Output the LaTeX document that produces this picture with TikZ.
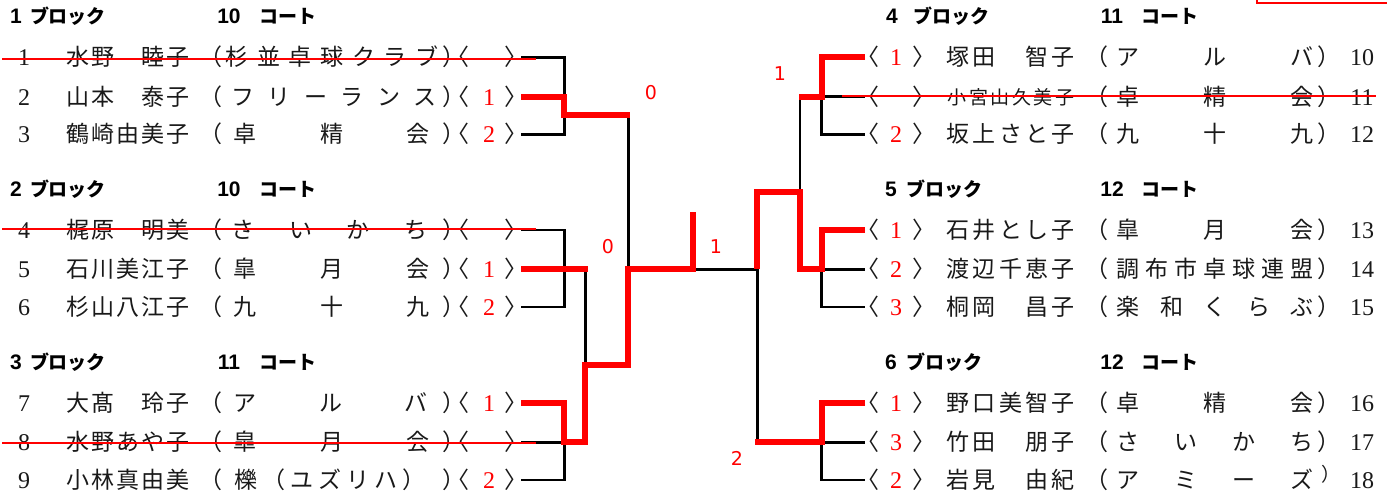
\documentclass[tikz,border=0pt]{standalone}
\usepackage{fontspec}
\newfontfamily\jp{Noto Sans CJK JP}
\newfontfamily\hdd{Liberation Sans}
\newfontfamily\dv{DejaVu Sans}
\newfontfamily\serifnum{Liberation Serif}
\tikzset{
  jt/.style={font=\jp\fontsize{23}{27}\selectfont, inner sep=0pt, anchor=base, text=black!90},
  jts/.style={font=\jp\fontsize{19}{22}\selectfont, inner sep=0pt, anchor=base, text=black!90},
  num/.style={font=\serifnum\fontsize{24}{28}\selectfont, inner sep=0pt, anchor=base, text=black!90},
  rnum/.style={num, text=red},
  hdk/.style={font=\jp\bfseries\fontsize{19}{22}\selectfont, inner sep=0pt, anchor=base},
  hdn/.style={font=\hdd\bfseries\fontsize{21}{24}\selectfont, inner sep=0pt, anchor=base},
  lab/.style={font=\dv\fontsize{19}{22}\selectfont, text=red, inner sep=0pt},
  blk/.style={line width=2.8pt, black},
  win/.style={line width=6pt, red},
  strike/.style={line width=2pt, red},
}
\newcommand\spr[5]{%
  \foreach \ch [count=\i] in {#5} {\xdef\sprn{\i}}%
  \foreach \ch [count=\i] in {#5} {%
    \node[jt] (#1\i) at ({#2+(\i-1)*(#3-#2)/(\sprn-1)}, #4) {\ch};}%
}
% left row: id, y, number, name list, club x1, club x2, club list
\newcommand\Lrow[7]{%
  \node[num] (L#1n) at (24, #2+8.5) {#3};
  \spr{L#1a}{78}{178}{#2+8.5}{#4}
  \node[jt] (L#1p) at (211, #2+8.5) {（};
  \spr{L#1c}{#5}{#6}{#2+8.5}{#7}
  \node[jt] (L#1q) at (454, #2+8.5) {）};
  \node[jt] (L#1b) at (458, #2+8.5) {〈};
  \node[jt] (L#1e) at (516, #2+8.5) {〉};
}
% right row: id, y, number, name list, club list
\newcommand\Rrow[5]{%
  \node[jt] (R#1b) at (868, #2+8.5) {〈};
  \node[jt] (R#1e) at (924, #2+8.5) {〉};
  \spr{R#1a}{958}{1063}{#2+8.5}{#4}
  \node[jt] (R#1p) at (1097, #2+8.5) {（};
  \spr{R#1c}{1128}{1302}{#2+8.5}{#5}
  \node[num] (R#1n) at (1362, #2+8.5) {#3};
}
\begin{document}
\begin{tikzpicture}[x=1pt,y=-1pt]
\useasboundingbox (0,0) rectangle (1387,494);
% headers
\foreach \k/\b/\c [count=\j] in {0/1/10,1/2/10,2/3/11} {
  \node[hdn] (hLb\j) at (16, 24+173*\k) {\b};
  \node[hdk] (hLk\j) at (68, 24+173*\k) {ブロック};
  \node[hdn] (hLc\j) at (229, 24+173*\k) {\c};
  \node[hdk] (hLt\j) at (287.5, 24+173*\k) {コート};
}
\node[hdn] (hR1b) at (892, 24) {4};
\node[hdk] (hR1k) at (951, 24) {ブロック};
\node[hdn] (hR2b) at (891, 197) {5};
\node[hdk] (hR2k) at (944, 197) {ブロック};
\node[hdn] (hR3b) at (891, 370) {6};
\node[hdk] (hR3k) at (944, 370) {ブロック};
\foreach \k/\c [count=\j] in {0/11,1/12,2/12} {
  \node[hdn] (hRc\j) at (1112, 24+173*\k) {\c};
  \node[hdk] (hRt\j) at (1170, 24+173*\k) {コート};
}
% left rows
\Lrow{1}{57.3}{1}{水,野,,睦,子}{237}{427}{杉,並,卓,球,ク,ラ,ブ}
\Lrow{2}{96.7}{2}{山,本,,泰,子}{243}{425}{フ,リ,ー,ラ,ン,ス}
\Lrow{3}{134.3}{3}{鶴,崎,由,美,子}{245}{418}{卓,精,会}
\Lrow{4}{230}{4}{梶,原,,明,美}{243}{416}{さ,い,か,ち}
\Lrow{5}{269.3}{5}{石,川,美,江,子}{245}{418}{皐,月,会}
\Lrow{6}{307}{6}{杉,山,八,江,子}{245}{418}{九,十,九}
\Lrow{7}{403.3}{7}{大,髙,,玲,子}{245}{416}{ア,ル,バ}
\Lrow{8}{442.3}{8}{水,野,あ,や,子}{245}{418}{皐,月,会}
\Lrow{9}{480}{9}{小,林,真,由,美}{246}{414}{櫟,（,ユ,ズ,リ,ハ,）}
\node[rnum] (L2d) at (489, 96.7+8.5) {1};
\node[rnum] (L3d) at (489, 134.3+8.5) {2};
\node[rnum] (L5d) at (489, 269.3+8.5) {1};
\node[rnum] (L6d) at (489, 307+8.5) {2};
\node[rnum] (L7d) at (489, 403.3+8.5) {1};
\node[rnum] (L9d) at (489, 480+8.5) {2};
% right rows
\Rrow{10}{57.3}{10}{塚,田,,智,子}{ア,ル,バ}
\node[jt] (R10q) at (1329, 57.3+8.5) {）};
\node[jt] (R11b) at (868, 96.7+8.5) {〈};
\node[jt] (R11e) at (924, 96.7+8.5) {〉};
\foreach \ch [count=\i] in {小,宮,山,久,美,子}
  \node[jts] (R11a\i) at ({957+(\i-1)*21.6}, 96.7+7.5) {\ch};
\node[jt] (R11p) at (1097, 96.7+8.5) {（};
\spr{R11c}{1128}{1302}{96.7+8.5}{卓,精,会}
\node[jt] (R11q) at (1329, 96.7+8.5) {）};
\node[num] (R11n) at (1362, 96.7+8.5) {11};
\Rrow{12}{134.3}{12}{坂,上,さ,と,子}{九,十,九}
\node[jt] (R12q) at (1329, 134.3+8.5) {）};
\Rrow{13}{230}{13}{石,井,と,し,子}{皐,月,会}
\node[jt] (R13q) at (1329, 230+8.5) {）};
\Rrow{14}{269.3}{14}{渡,辺,千,恵,子}{調,布,市,卓,球,連,盟}
\node[jt] (R14q) at (1329, 269.3+8.5) {）};
\Rrow{15}{307}{15}{桐,岡,,昌,子}{楽,和,く,ら,ぶ}
\node[jt] (R15q) at (1329, 307+8.5) {）};
\Rrow{16}{403.3}{16}{野,口,美,智,子}{卓,精,会}
\node[jt] (R16q) at (1329, 403.3+8.5) {）};
\Rrow{17}{442.3}{17}{竹,田,,朋,子}{さ,い,か,ち}
\node[jt] (R17q) at (1329, 442.3+8.5) {）};
\Rrow{18}{480}{18}{岩,見,,由,紀}{ア,ミ,ー,ズ}
\node[jts] (R18q) at (1331, 480+1) {）};
\node[rnum] (R10d) at (896, 57.3+8.5) {1};
\node[rnum] (R12d) at (896, 134.3+8.5) {2};
\node[rnum] (R13d) at (896, 230+8.5) {1};
\node[rnum] (R14d) at (896, 269.3+8.5) {2};
\node[rnum] (R15d) at (896, 307+8.5) {3};
\node[rnum] (R16d) at (896, 403.3+8.5) {1};
\node[rnum] (R17d) at (896, 442.3+8.5) {3};
\node[rnum] (R18d) at (896, 480+8.5) {2};
% row end coordinates
\foreach \i/\y in {1/57.3,2/96.7,3/134.3,4/230,5/269.3,6/307,7/403.3,8/442.3,9/480}
  \coordinate (Lr\i) at (521,\y);
\foreach \i/\y in {10/57.3,11/96.7,12/134.3,13/230,14/269.3,15/307,16/403.3,17/442.3,18/480}
  \coordinate (Rr\i) at (865,\y);
% black bracket lines
\draw[blk] (Lr1) -- (564.3,57.3) -- (564.3,134.3) -- (Lr3);
\draw[blk] (628.3,115.3) -- (628.3,269.3);
\draw[blk] (Lr4) -- (564.3,230) -- (564.3,307) -- (Lr6);
\draw[blk] (585.3,269.3) -- (585.3,365);
\draw[blk] (Lr7) -- (564.3,403.3) -- (564.3,480) -- (Lr9);
\draw[blk] (Lr8) -- (564.3,442.3);
\draw[blk] (693.3,269.3) -- (757.3,269.3) -- (757.3,442.3);
\draw[blk] (800,191.7) -- (800,96.7);
\draw[blk] (Rr10) -- (821.7,57.3) -- (821.7,134.3) -- (Rr12);
\draw[blk] (821.7,96.7) -- (Rr11);
\draw[blk] (Rr13) -- (821.7,230) -- (821.7,307) -- (Rr15);
\draw[blk] (821.7,269.3) -- (Rr14);
\draw[blk] (Rr16) -- (821.7,403.3) -- (821.7,480) -- (Rr18);
\draw[blk] (821.7,442.3) -- (Rr17);
% winners
\draw[win] (Lr2) -- (564.3,96.7) -- (564.3,115.3) -- (629.5,115.3);
\draw[win] (Lr5) -- (587.5,269.3);
\draw[win] (Lr7) -- (564.3,403.3) -- (564.3,442.3) -- (585.3,442.3) -- (585.3,365) -- (628.3,365) -- (628.3,269.3) -- (693.3,269.3) -- (693.3,211.7);
\draw[win] (Rr13) -- (821.7,230) -- (821.7,269.3) -- (800,269.3) -- (800,191.7) -- (757.3,191.7) -- (757.3,269.3);
\draw[win] (Rr16) -- (821.7,403.3) -- (821.7,442.3) -- (755,442.3);
\draw[win] (Rr10) -- (821.7,57.3) -- (821.7,96.7) -- (798.6,96.7);
% strike lines
\draw[strike] (2,59.2) -- (536,59.2);
\draw[strike] (2,229.3) -- (536,229.3);
\draw[strike] (2,442.7) -- (536,442.7);
\draw[strike] (842,95.7) -- (1376,95.7);
% score labels
\node[lab] (s1) at (651,93) {0};
\node[lab] (s2) at (608,247) {0};
\node[lab] (s3) at (716,247) {1};
\node[lab] (s4) at (780,74) {1};
\node[lab] (s5) at (737,458) {2};
% clipped red box at top right
\begin{scope}
  \clip (0,0) rectangle (1387,494);
  \draw[red, line width=2pt] (1257,-30) rectangle (1420,3);
\end{scope}
\end{tikzpicture}
\end{document}
